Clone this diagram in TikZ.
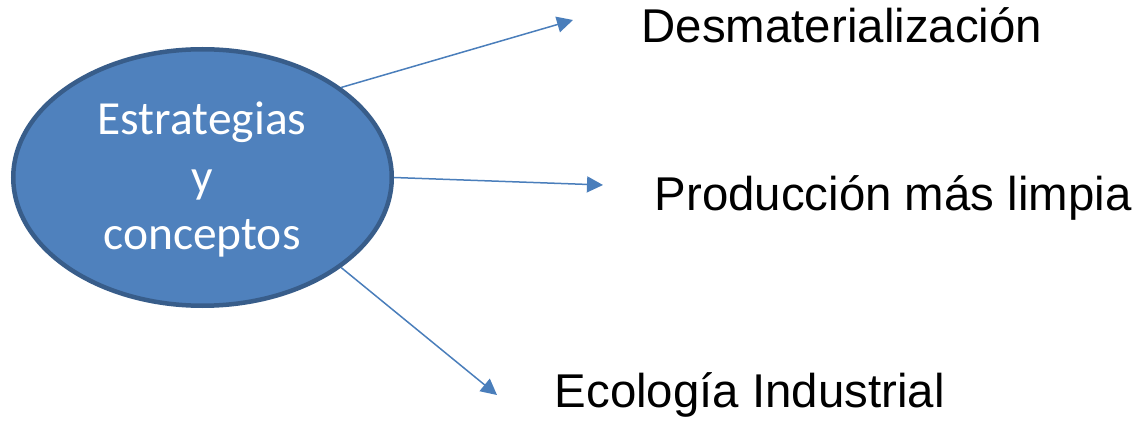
\documentclass[tikz,border=0pt]{standalone}
\usepackage{fontspec}
\usepackage{tikz}
\usetikzlibrary{arrows.meta,shapes.geometric}
\newfontfamily\blobfont{Carlito}
\newfontfamily\labelfont{Liberation Sans}
\definecolor{blobfill}{HTML}{4F81BD}
\definecolor{blobline}{HTML}{385D8A}
\definecolor{arrowblue}{HTML}{4A7EBB}

\begin{document}
\begin{tikzpicture}[x=1pt,y=1pt,
                blob/.style={ellipse,draw=blobline,fill=blobfill,line width=4.5pt,
                    minimum width=378.5pt,minimum height=256.5pt,inner sep=0pt},
                blobtext/.style={text=white,font=\blobfont\fontsize{47.5}{57.5}\selectfont,
                    text width=260pt,align=center,inner sep=0pt,anchor=base},
                concept/.style={font=\labelfont\fontsize{47.4}{56}\selectfont,
                    inner sep=0pt,anchor=base west},
                link/.style={draw=arrowblue,line width=1.5pt,
                    -{Triangle[length=16pt,width=16pt]}}]
                \useasboundingbox (0,0) rectangle (1141,421);
                \node[blob] (strat) at (202.5,243.5) {};
                \node[blobtext] (strattext) at (202,286) {Estrategias\\y\\conceptos};
                \node[concept] (desmat) at (641.5,378) {Desmaterialización};
                \node[concept] (pml) at (654.5,211) {Producción más limpia};
                \node[concept] (ecoind) at (554.5,14) {Ecología Industrial};
                \coordinate (tipdesmat) at (573,401);
                \coordinate (tippml) at (603,236);
                \coordinate (tipecoind) at (497,26);
                \draw[link] (strat.33.6) -- (tipdesmat);
                \draw[link] (strat.east) -- (tippml);
                \draw[link] (strat.-33.7) -- (tipecoind);
            \end{tikzpicture}
\end{document}
